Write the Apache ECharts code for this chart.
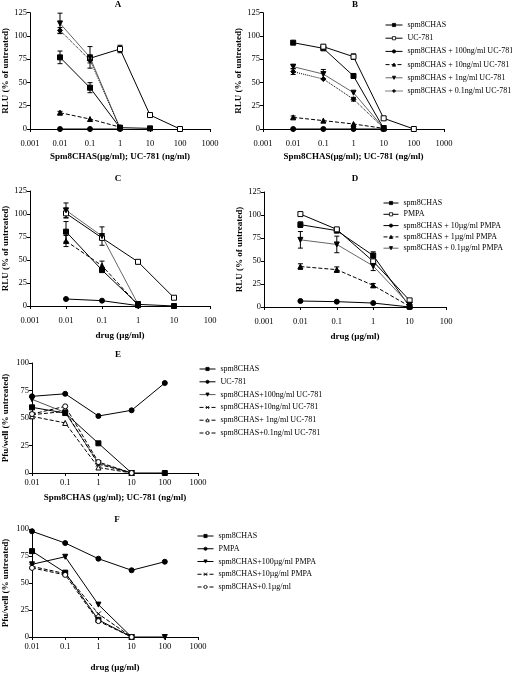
<!DOCTYPE html>
<html><head><meta charset="utf-8">
<script src="https://cdn.jsdelivr.net/npm/echarts@6/dist/echarts.min.js"></script>
<style>html,body{margin:0;padding:0;background:#fff}#c{width:512px;height:673px}</style>
</head><body><div id="c"></div>
<script>
// ---------- tick labels ----------
const ticksAB = ['0.001','0.01','0.1','1','10','100','1000'];
const ticksCD = ['0.001','0.01','0.1','1','10','100'];
const ticksEF = ['0.01','0.1','1','10','100','1000'];

// ---------- Panel A (RLU, UC-781) ----------
const concA = [0.01, 0.1, 1, 10];
const concUC = [0.1, 1, 10, 100];
const concA3 = [0.01, 0.1, 1];
const A_spm = [77, 44.4, 1.4, 0.7];      const A_spm_err = [6.8, 5.4, 0, 0];
const A_uc = [76, 86, 15, 0];            const A_uc_err = [0, 4, 0, 0];
const A_100 = [0, 0, 0];
const A_10 = [17.5, 10.7, 2];            const A_10_err = [1.5, 0, 0];
const A_1 = [113.5, 77, 1];              const A_1_err = [11, 11.6, 0];
const A_01 = [106, 74, 1];               const A_01_err = [3, 3, 0];

// ---------- Panel B ----------
const concB = [0.01, 0.1, 1, 10];
const B_spm = [92.8, 86.7, 57, 0.7];
const B_uc = [88.5, 77.7, 11.5, 0];      const B_uc_err = [2, 3, 0, 0];
const B_100 = [0, 0, 0, 0];
const B_10 = [12.5, 9, 5.4, 0.7];        const B_10_err = [1.5, 0, 0, 0];
const B_1 = [67, 59, 39, 1];             const B_1_err = [2, 5, 0, 0];
const B_01 = [61.6, 53.7, 32, 1];        const B_01_err = [3, 0, 2, 0];

// ---------- Panel C (RLU, PMPA) ----------
const concC = [0.01, 0.1, 1, 10];
const concC3 = [0.01, 0.1, 1];
const C_spm = [80.8, 39, 1.8, 0];        const C_spm_err = [11, 0, 0, 0];
const C_pmpa = [100.7, 74, 48, 9];       const C_pmpa_err = [5, 0, 1, 0];
const C_10 = [7.6, 5.8, 0.4];
const C_1 = [70.6, 43.8, 1];             const C_1_err = [6, 5, 0];
const C_01 = [104, 76, 2];               const C_01_err = [8, 10, 0];

// ---------- Panel D ----------
const concD = [0.01, 0.1, 1, 10];
const D_spm = [89.5, 83, 56, 0.4];       const D_spm_err = [3, 0, 4, 0];
const D_pmpa = [101, 84.4, 49.6, 7.2];
const D_10 = [6.5, 5.8, 4.3, 0];
const D_1 = [44, 40.6, 23.5, 0.7];       const D_1_err = [3, 3, 2, 0];
const D_01 = [73, 68, 44.6, 2.5];        const D_01_err = [9, 9, 5, 0];

// ---------- Panel E (Pfu/well, UC-781) ----------
const concE5 = [0.01, 0.1, 1, 10, 100];
const concE4 = [0.01, 0.1, 1, 10];
const E_spm = [59.7, 54.5, 27, 0, 0];
const E_uc = [69.7, 72, 51.8, 57, 81.8];
const E_100 = [67, 55, 9, 0];
const E_10 = [53, 56, 8, 0];
const E_1 = [51.5, 45.5, 5, 0];
const E_01 = [53.6, 60.6, 10, 0];

// ---------- Panel F (Pfu/well, PMPA) ----------
const concF5 = [0.01, 0.1, 1, 10, 100];
const concF4 = [0.01, 0.1, 1, 10];
const F_spm = [79.5, 59.6, 15.9, 0];
const F_pmpa = [97.9, 87, 72.5, 61.8, 69.7];
const F_100 = [67.3, 74.3, 30, 0, 0];
const F_10 = [65.4, 58.7, 21.4, 0];
const F_01 = [64, 57.5, 14.7, 0];

// ---------- legend names ----------
const legAB = ['spm8CHAS','UC-781','spm8CHAS + 100ng/ml UC-781','spm8CHAS + 10ng/ml UC-781','spm8CHAS + 1ng/ml UC-781','spm8CHAS + 0.1ng/ml UC-781'];
const legCD = ['spm8CHAS#D','PMPA','spm8CHAS + 10\u00b5g/ml PMPA','spm8CHAS + 1\u00b5g/ml PMPA','spm8CHAS + 0.1\u00b5g/ml PMPA'];
const legE = ['spm8CHAS#E','UC-781#E','spm8CHAS+100ng/ml UC-781','spm8CHAS+10ng/ml UC-781','spm8CHAS+ 1ng/ml UC-781','spm8CHAS+0.1ng/ml UC-781'];
const legF = ['spm8CHAS#F','PMPA#F','spm8CHAS+100\u00b5g/ml PMPA','spm8CHAS+10\u00b5g/ml PMPA','spm8CHAS+0.1\u00b5g/ml'];

// ---------- styling helpers ----------
const FONT = '"Liberation Serif", "Times New Roman", serif';
const XPATH = 'path://M0,0L10,10M10,0L0,10';
const ST = {
  fsq:  {symbol:'rect', size:5, fill:'#000'},
  osq:  {symbol:'rect', size:5, fill:'#fff'},
  fci:  {symbol:'circle', size:5, fill:'#000'},
  oci:  {symbol:'circle', size:5, fill:'#fff'},
  utri: {symbol:'triangle', size:5, fill:'#000'},
  otri: {symbol:'triangle', size:5, fill:'#fff'},
  dtri: {symbol:'triangle', size:5, fill:'#000', rot:180},
  dia:  {symbol:'diamond', size:5, fill:'#000'},
  x:    {symbol:XPATH, size:5, fill:'none'}
};

const series = [];
function addLine(name, g, xs, ys, st, ltype, lcolor) {
  series.push({
    type:'line', name:name, xAxisIndex:g, yAxisIndex:g,
    data: xs.map((x,i)=>[x, ys[i]]),
    symbol: st.symbol, symbolSize: st.size, symbolRotate: st.rot || 0,
    showSymbol:true, z:3,
    lineStyle:{color: lcolor || '#000', width:1, type: ltype || 'solid'},
    itemStyle:{color: st.fill === 'none' ? 'rgba(0,0,0,0)' : st.fill, borderColor:'#000', borderWidth:1, opacity:1},
    emphasis:{disabled:true}
  });
}
function renderErr(params, api) {
  const x = api.value(0), y = api.value(1), e = api.value(2);
  if (!e) return null;
  const t = api.coord([x, y + e]), b = api.coord([x, Math.max(y - e, 0)]);
  const w = 2.5, s = {stroke:'#000', lineWidth:1};
  return {type:'group', children:[
    {type:'line', shape:{x1:t[0], y1:t[1], x2:b[0], y2:b[1]}, style:s},
    {type:'line', shape:{x1:t[0]-w, y1:t[1], x2:t[0]+w, y2:t[1]}, style:s},
    {type:'line', shape:{x1:b[0]-w, y1:b[1], x2:b[0]+w, y2:b[1]}, style:s}
  ]};
}
function addErr(g, xs, ys, es) {
  series.push({
    type:'custom', xAxisIndex:g, yAxisIndex:g, z:2,
    renderItem: renderErr, encode:{x:0, y:1},
    data: xs.map((x,i)=>[x, ys[i], es[i]]), silent:true
  });
}

// Panel A (grid 0)
addLine(legAB[0], 0, concA, A_spm, ST.fsq);            addErr(0, concA, A_spm, A_spm_err);
addLine(legAB[1], 0, concUC, A_uc, ST.osq);            addErr(0, concUC, A_uc, A_uc_err);
addLine(legAB[2], 0, concA3, A_100, ST.fci);
addLine(legAB[3], 0, concA3, A_10, ST.utri, 'dashed'); addErr(0, concA3, A_10, A_10_err);
addLine(legAB[4], 0, concA3, A_1, ST.dtri, 'solid', '#666'); addErr(0, concA3, A_1, A_1_err);
addLine(legAB[5], 0, concA3, A_01, ST.dia, 'dotted');  addErr(0, concA3, A_01, A_01_err);
// Panel B (grid 1)
addLine(legAB[0], 1, concB, B_spm, ST.fsq);
addLine(legAB[1], 1, concUC, B_uc, ST.osq);            addErr(1, concUC, B_uc, B_uc_err);
addLine(legAB[2], 1, concB, B_100, ST.fci);
addLine(legAB[3], 1, concB, B_10, ST.utri, 'dashed');  addErr(1, concB, B_10, B_10_err);
addLine(legAB[4], 1, concB, B_1, ST.dtri, 'solid', '#666'); addErr(1, concB, B_1, B_1_err);
addLine(legAB[5], 1, concB, B_01, ST.dia, 'dotted');   addErr(1, concB, B_01, B_01_err);
// Panel C (grid 2)
addLine(legCD[0], 2, concC, C_spm, ST.fsq);            addErr(2, concC, C_spm, C_spm_err);
addLine(legCD[1], 2, concC, C_pmpa, ST.osq);           addErr(2, concC, C_pmpa, C_pmpa_err);
addLine(legCD[2], 2, concC3, C_10, ST.fci);
addLine(legCD[3], 2, concC3, C_1, ST.utri, 'dashed');  addErr(2, concC3, C_1, C_1_err);
addLine(legCD[4], 2, concC3, C_01, ST.dtri, 'solid', '#666'); addErr(2, concC3, C_01, C_01_err);
// Panel D (grid 3)
addLine(legCD[0], 3, concD, D_spm, ST.fsq);            addErr(3, concD, D_spm, D_spm_err);
addLine(legCD[1], 3, concD, D_pmpa, ST.osq);
addLine(legCD[2], 3, concD, D_10, ST.fci);
addLine(legCD[3], 3, concD, D_1, ST.utri, 'dashed');   addErr(3, concD, D_1, D_1_err);
addLine(legCD[4], 3, concD, D_01, ST.dtri, 'solid', '#666'); addErr(3, concD, D_01, D_01_err);
// Panel E (grid 4)
addLine(legE[0], 4, concE5, E_spm, ST.fsq);
addLine(legE[1], 4, concE5, E_uc, ST.fci);
addLine(legE[2], 4, concE4, E_100, ST.dtri, 'solid', '#555');
addLine(legE[3], 4, concE4, E_10, ST.x, 'dashed');
addLine(legE[4], 4, concE4, E_1, ST.otri, 'dashed');
addLine(legE[5], 4, concE4, E_01, ST.oci, 'dashed');
// Panel F (grid 5)
addLine(legF[0], 5, concF4, F_spm, ST.fsq);
addLine(legF[1], 5, concF5, F_pmpa, ST.fci);
addLine(legF[2], 5, concF5, F_100, ST.dtri);
addLine(legF[3], 5, concF4, F_10, ST.x, 'dashed');
addLine(legF[4], 5, concF4, F_01, ST.oci, 'dashed');

// ---------- layout ----------
const grids = [
  {left:29, top:12.7, width:181, height:116.3},
  {left:263, top:12.7, width:181, height:116.3},
  {left:29, top:191, width:181, height:115},
  {left:264, top:192, width:182, height:115},
  {left:31, top:363, width:167, height:110},
  {left:31, top:529, width:167, height:109}
];
const xCfg = [
  {min:0.001, max:1000, labels:ticksAB, off:5, name:'Spm8CHAS(\u00b5g/ml); UC-781 (ng/ml)', gap:18},
  {min:0.001, max:1000, labels:ticksAB, off:5, name:'Spm8CHAS(\u00b5g/ml); UC-781 (ng/ml)', gap:18},
  {min:0.001, max:100, labels:ticksCD, off:5, name:'drug (\u00b5g/ml)', gap:20},
  {min:0.001, max:100, labels:ticksCD, off:5, name:'drug (\u00b5g/ml)', gap:20},
  {min:0.01, max:1000, labels:ticksEF, off:0, name:'Spm8CHAS (\u00b5g/ml); UC-781 (ng/ml)', gap:20},
  {min:0.01, max:1000, labels:ticksEF, off:0, name:'drug (\u00b5g/ml)', gap:26}
];
const axisLine = {show:true, lineStyle:{color:'#000', width:1}};
const axisTick = {show:true, length:3, lineStyle:{color:'#000', width:1}};
const lblStyle = {color:'#000', fontFamily:FONT, fontSize:8.5};
const nameStyle = {color:'#000', fontFamily:FONT, fontSize:9, fontWeight:'bold'};

const xAxis = xCfg.map((c, i) => ({
  type:'log', logBase:10, gridIndex:i, min:c.min, max:c.max,
  splitNumber: c.labels.length - 1, offset:c.off,
  axisLine:axisLine, axisTick:axisTick, splitLine:{show:false}, minorTick:{show:false},
  axisLabel:Object.assign({margin:5, formatter:(v)=>{
    const k = Math.round(Math.log10(v)) - Math.round(Math.log10(c.min));
    return c.labels[k] !== undefined ? c.labels[k] : '';
  }}, lblStyle),
  name:c.name, nameLocation:'middle', nameGap:c.gap, nameTextStyle:nameStyle
}));
const yAxis = grids.map((g, i) => ({
  type:'value', gridIndex:i, min:0, max: i < 4 ? 125 : 100, interval:25,
  axisLine:axisLine, axisTick:axisTick, splitLine:{show:false},
  axisLabel:Object.assign({margin:3}, lblStyle),
  name: i < 4 ? 'RLU (% of untreated)' : 'Pfu/well (% untreated)',
  nameLocation:'middle', nameGap: i < 4 ? 20 : 22, nameRotate:90, nameTextStyle:nameStyle
}));

const titleStyle = {color:'#000', fontFamily:FONT, fontSize:9, fontWeight:'bold'};
const titles = [['A',118,0],['B',355,0],['C',118,174],['D',355,174],['E',118,350],['F',117,515]]
  .map(t => ({text:t[0], left:t[1], top:t[2], padding:0, textAlign:'center', textStyle:titleStyle}));

const legTxt = {color:'#000', fontFamily:FONT, fontSize:8, lineHeight:10};
function mkLegend(data, left, top, gap, w) {
  return {orient:'vertical', left:left, top:top, padding:0, itemGap:gap, itemWidth:w, itemHeight:4,
    data:data, textStyle:legTxt, formatter:(n)=>n.split('#')[0], selectedMode:false, inactiveColor:'#000',
    lineStyle:{width:1}, itemStyle:{borderWidth:0.8}};
}
const legends = [
  mkLegend(legAB, 385, 20, 3.2, 17),
  mkLegend(legCD, 383, 198, 1.3, 15),
  mkLegend(legE, 199, 364, 2.8, 16),
  mkLegend(legF, 197, 531, 2.75, 16)
];

const chart = echarts.init(document.getElementById('c'), null, {renderer:'canvas'});
chart.setOption({
  animation:false, backgroundColor:'#fff',
  title:titles, grid:grids, xAxis:xAxis, yAxis:yAxis, legend:legends, series:series
});
</script></body></html>
